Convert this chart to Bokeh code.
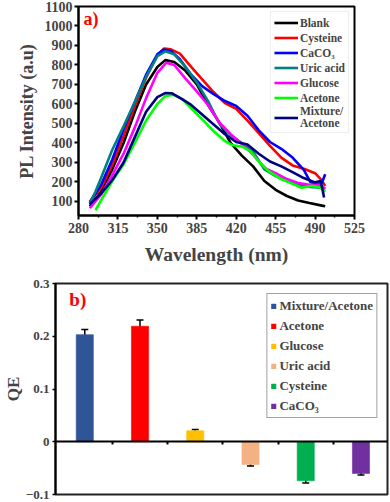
from bokeh.plotting import figure
from bokeh.models import (ColumnDataSource, Legend, LegendItem, Label, Whisker, TeeHead,
                          FixedTicker, LinearAxis)
from bokeh.embed import file_html
from bokeh.resources import INLINE

FONT = "Liberation Serif"

# ---------------- panel a) data ----------------
blank_x = [290, 300, 310, 320, 330, 340, 350, 357, 365, 375, 385, 395, 405, 415, 425, 435, 445, 455, 465, 475, 485, 495, 499]
blank_y = [75, 150, 265, 400, 560, 700, 790, 825, 815, 770, 700, 595, 505, 400, 335, 280, 205, 160, 128, 105, 92, 80, 75]

cys_x = [290, 300, 310, 320, 330, 340, 350, 356, 362, 370, 380, 390, 400, 410, 420, 430, 440, 450, 460, 470, 480, 490, 495, 499]
cys_y = [100, 170, 290, 435, 590, 735, 850, 885, 880, 858, 790, 725, 660, 605, 575, 515, 450, 385, 325, 285, 268, 245, 215, 180]

caco_x = [290, 300, 310, 320, 330, 340, 350, 356, 362, 370, 380, 390, 400, 410, 420, 430, 440, 450, 460, 470, 480, 486, 492, 496, 499]
caco_y = [95, 185, 315, 470, 610, 750, 855, 880, 872, 830, 750, 690, 650, 615, 590, 540, 465, 405, 370, 325, 262, 198, 190, 195, 240]

uric_x = [290, 295, 300, 310, 320, 330, 340, 350, 357, 365, 375, 385, 395, 405, 415, 425, 435, 445, 455, 465, 475, 485, 495, 499]
uric_y = [90, 150, 220, 365, 485, 610, 740, 845, 870, 855, 790, 710, 615, 500, 440, 400, 355, 265, 230, 205, 185, 175, 170, 160]

glu_x = [290, 300, 310, 320, 330, 340, 350, 358, 365, 375, 385, 395, 405, 415, 425, 435, 445, 455, 465, 475, 485, 495, 499]
glu_y = [65, 135, 235, 345, 480, 630, 760, 812, 800, 730, 665, 595, 505, 445, 395, 340, 272, 245, 215, 195, 185, 185, 165]

ace_x = [295, 300, 310, 320, 330, 340, 350, 357, 364, 372, 380, 390, 400, 410, 417, 425, 433, 440, 450, 460, 470, 478, 487, 495, 499]
ace_y = [55, 105, 205, 290, 400, 515, 600, 640, 648, 625, 578, 520, 460, 410, 388, 382, 355, 305, 250, 215, 190, 170, 180, 170, 150]

mix_x = [290, 300, 310, 320, 330, 340, 350, 357, 363, 372, 380, 390, 400, 410, 420, 430, 440, 450, 460, 470, 480, 490, 495, 498]
mix_y = [85, 140, 210, 300, 430, 560, 635, 656, 655, 625, 595, 545, 495, 445, 405, 392, 345, 305, 280, 250, 220, 198, 205, 120]

series_names = ["Blank", "Cysteine", "CaCO\u2083", "Uric acid", "Glucose", "Acetone", "Mixture/\nAcetone"]
series_colors = ["#000000", "#FF0000", "#0000FF", "#008080", "#FF00FF", "#00FF00", "#000080"]
series_x = [blank_x, cys_x, caco_x, uric_x, glu_x, ace_x, mix_x]
series_y = [blank_y, cys_y, caco_y, uric_y, glu_y, ace_y, mix_y]

x_ticks_a = [280, 315, 350, 385, 420, 455, 490, 525]
y_ticks_a = [100, 200, 300, 400, 500, 600, 700, 800, 900, 1000, 1100]

# ---------------- panel b) data ----------------
qe_cats = ["Mixture/Acetone", "Acetone", "Glucose", "Uric acid", "Cysteine", "CaCO\u2083"]
qe_vals = [0.203, 0.219, 0.021, -0.043, -0.074, -0.060]
qe_err = [0.010, 0.012, 0.002, 0.003, 0.004, 0.003]
qe_colors = ["#2F5597", "#FF0000", "#FFC000", "#F4B183", "#00B050", "#7030A0"]
y_ticks_b = [-0.1, 0, 0.1, 0.2, 0.3]

# ---------------- figure a ----------------
p1 = figure(width=390, height=267, x_range=(280, 525), y_range=(28, 1100),
            output_backend="svg", toolbar_location=None,
            min_border_left=78, min_border_right=36, min_border_top=6, min_border_bottom=10)
p1.grid.visible = False
p1.outline_line_color = "black"
p1.outline_line_width = 2

items = []
for name, col, xs, ys in zip(series_names, series_colors, series_x, series_y):
    r = p1.line(xs, ys, line_color=col, line_width=2.6)
    items.append(LegendItem(label=name, renderers=[r]))

leg = Legend(items=items, location="top_right", margin=5, padding=3, spacing=0,
             label_text_font=FONT, label_text_font_style="bold", label_text_font_size="11.5px",
             glyph_width=24, glyph_height=15, label_height=12, label_standoff=2,
             border_line_color="#dddddd", border_line_width=1, background_fill_alpha=1)
p1.add_layout(leg)

for ax in (p1.xaxis, p1.yaxis):
    ax.axis_line_width = 2
    ax.major_tick_line_width = 2
    ax.minor_tick_line_width = 1.5
    ax.major_label_text_font = FONT
    ax.major_label_text_font_style = "bold"
    ax.major_label_text_font_size = "14px"
    ax.axis_label_text_font = FONT
    ax.axis_label_text_font_style = "bold"
    ax.major_tick_in = 0
    ax.major_tick_out = 4
    ax.minor_tick_in = 0
    ax.minor_tick_out = 2

p1.xaxis.ticker = FixedTicker(ticks=x_ticks_a, minor_ticks=[297.5 + 35 * i for i in range(7)])
p1.yaxis.ticker = FixedTicker(ticks=y_ticks_a, minor_ticks=[])
p1.xaxis.axis_label = "Wavelength (nm)"
p1.yaxis.axis_label = "PL Intensity (a.u)"
p1.xaxis.axis_label_text_font_size = "19.5px"
p1.yaxis.axis_label_text_font_size = "18px"
p1.xaxis.axis_label_standoff = 8
p1.yaxis.axis_label_standoff = 5
p1.xaxis.major_label_standoff = 3
p1.yaxis.major_label_standoff = 2

p1.add_layout(Label(x=284.5, y=986, text="a)", text_color="#FF0000", text_font=FONT,
                    text_font_style="bold", text_font_size="18px"))

# ---------------- figure b ----------------
p2 = figure(width=390, height=235, x_range=(-0.53, 5.48), y_range=(-0.1, 0.3),
            output_backend="svg", toolbar_location=None, x_axis_location=None,
            min_border_left=40, min_border_right=3, min_border_top=16, min_border_bottom=8)
p2.grid.visible = False
p2.outline_line_color = "#222222"
p2.outline_line_width = 2

xs_b = list(range(len(qe_cats)))
src = ColumnDataSource(dict(x=xs_b, top=qe_vals, color=qe_colors, cat=qe_cats,
                            upper=[v + e for v, e in zip(qe_vals, qe_err)],
                            lower=[v - e for v, e in zip(qe_vals, qe_err)]))
bars = p2.vbar(x="x", top="top", bottom=0, width=0.31, fill_color="color",
               line_color="color", line_alpha=0.6, source=src)

wh = Whisker(source=src, base="x", upper="upper", lower="lower", line_color="black",
             line_width=1.5,
             upper_head=TeeHead(size=7, line_width=1.5, line_color="black"),
             lower_head=TeeHead(size=7, line_width=1.5, line_color="black"))
p2.add_layout(wh)

xa = LinearAxis(fixed_location=0, ticker=FixedTicker(ticks=[0.5, 1.5, 2.5, 3.5, 4.5], minor_ticks=[]),
                axis_line_width=2, major_tick_line_width=2, major_tick_in=0, major_tick_out=3,
                minor_tick_line_color=None, major_label_text_font_size="1px",
                major_label_text_color=None, major_label_standoff=0)
p2.add_layout(xa, "below")

p2.yaxis.ticker = FixedTicker(ticks=y_ticks_b, minor_ticks=[])
p2.yaxis.axis_line_width = 2
p2.yaxis.major_tick_in = 0
p2.yaxis.major_tick_out = 3
p2.yaxis.major_tick_line_width = 1.5
p2.yaxis.major_label_text_font = FONT
p2.yaxis.major_label_text_font_style = "bold"
p2.yaxis.major_label_text_font_size = "13px"
p2.yaxis.major_label_standoff = 3
p2.yaxis.axis_label = "QE"
p2.yaxis.axis_label_text_font = FONT
p2.yaxis.axis_label_text_font_style = "bold"
p2.yaxis.axis_label_text_font_size = "17px"
p2.yaxis.axis_label_standoff = 0

leg_items_b = [LegendItem(label=c, renderers=[bars], index=i) for i, c in enumerate(qe_cats)]
leg2 = Legend(items=leg_items_b, location="top_right", margin=10, padding=3, spacing=3,
              label_text_font=FONT, label_text_font_style="bold", label_text_font_size="13px",
              glyph_width=6, glyph_height=6, label_height=17, label_standoff=3,
              border_line_color="#444444", border_line_width=1.5)
p2.add_layout(leg2)

p2.add_layout(Label(x=-0.28, y=0.25, text="b)", text_color="#FF0000", text_font=FONT,
                    text_font_style="bold", text_font_size="19px"))

open("out.html", "w").write(file_html([p1, p2], INLINE))
